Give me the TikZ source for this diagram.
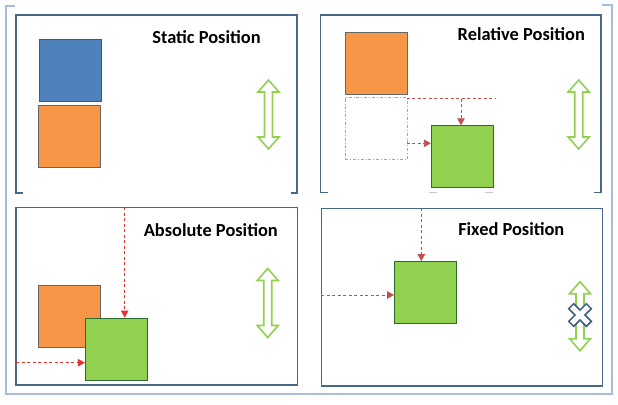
\documentclass[tikz,border=0pt]{standalone}
\usepackage{fontspec}
\setmainfont{Carlito}
\usepackage{tikz}
\usepackage{xcolor}
\usetikzlibrary{arrows.meta}
\definecolor{framegray}{HTML}{A9BED6}
\definecolor{panelblue}{HTML}{46698A}
\definecolor{boxblue}{HTML}{4F81BD}
\definecolor{boxorange}{HTML}{F79646}
\definecolor{boxgreen}{HTML}{92D050}
\definecolor{arrowred}{HTML}{C0504D}
\definecolor{brightred}{HTML}{E8312F}
\definecolor{crossblue}{HTML}{3B5A85}
\tikzset{sqbox/.style={draw, minimum size=62pt, inner sep=0pt, line width=0.8pt},
 bluebox/.style={sqbox, fill=boxblue, draw=boxblue!70!black},
 orangebox/.style={sqbox, fill=boxorange, draw=gray!80!black},
 greenbox/.style={sqbox, fill=boxgreen, draw=gray!60!green!60!black},
 ghostbox/.style={sqbox, draw=gray!70, dash dot, line width=0.7pt},
 panel/.style={draw=panelblue, line width=1.1pt},
 title/.style={anchor=base, font=\fontsize{18.4}{20}\selectfont\bfseries},
 shift arrow/.style={draw=arrowred, line width=0.9pt, dash pattern=on 3pt off 2.5pt,
   -{Triangle[length=7pt,width=7.5pt]}},
 updown/.pic={
   \draw[draw=boxgreen, fill=white, line width=1.6pt, line join=miter]
     (-4,-22.5) -- (-10.5,-22.5) -- (0,-34.5) -- (10.5,-22.5) -- (4,-22.5)
     -- (4,22.5) -- (10.5,22.5) -- (0,34.5) -- (-10.5,22.5) -- (-4,22.5) -- cycle;
 },
 nomove/.pic={
   \draw[draw=crossblue, fill=white, line width=1.5pt, rotate=45]
     (3.5,3.5) -- (12.5,3.5) -- (12.5,-3.5) -- (3.5,-3.5) -- (3.5,-12.5)
     -- (-3.5,-12.5) -- (-3.5,-3.5) -- (-12.5,-3.5) -- (-12.5,3.5)
     -- (-3.5,3.5) -- (-3.5,12.5) -- (3.5,12.5) -- cycle;
 },
 }

\begin{document}
\begin{tikzpicture}[x=1pt, y=-1pt]
        \useasboundingbox (0,0) rectangle (618,404);
        % outer window frame
        \draw[framegray, line width=1.8pt] (15,6) -- (6,6) -- (6,394) -- (611.7,394) -- (611.7,5) -- (602,5);

        % static
        \draw[panel] (23,193) -- (16,193) -- (16,15) -- (297,15) -- (297,193) -- (290.7,193);
        \node[title] (static) at (206.5,43.3) {Static Position};
        \node[bluebox] (blue1) at (70.5,70.5) {};
        \node[orangebox] (orange1) at (69.5,136.3) {};
        \pic at (268.5,114.5) {updown};

        % relative
        \draw[panel] (328,192.7) -- (320.7,192.7) -- (320.7,15) -- (601,15) -- (601,192.7) -- (594,192.7);
        \draw[panel, draw=panelblue!35] (429,192.7) -- (437,192.7) (485,192.7) -- (493,192.7);
        \node[title] (relative) at (521.3,41) {Relative Position};
        \node[orangebox] (orange2) at (376,63.2) {};
        \node[ghostbox] (ghost2) at (376,128.3) {};
        \node[greenbox] (green2) at (462.2,156.7) {};
        \coordinate (rel top) at (406.7,98.5);
        \coordinate (rel end) at (496.3,98.5);
        \coordinate (rel drop) at (461,98.5);
        \coordinate (rel side) at (406.7,143.3);
        \draw[shift arrow, -] (rel top) -- (rel end);
        \draw[shift arrow] (rel drop) -- (rel drop |- green2.north);
        \draw[shift arrow] (rel side) -- (rel side -| green2.west);
        \pic at (578.7,114.5) {updown};

        % absolute
        \draw[panel] (16,207.3) rectangle (297.3,385);
        \node[title] (absolute) at (210.8,236.7) {Absolute Position};
        \node[orangebox] (orange3) at (69.7,316) {};
        \node[greenbox] (green3) at (116.3,349) {};
        \coordinate (abs top) at (124.7,207.3);
        \coordinate (abs left) at (16,362.7);
        \draw[shift arrow, draw=brightred] (abs top) -- (abs top |- green3.north);
        \draw[shift arrow, draw=brightred] (abs left) -- (abs left -| green3.west);
        \pic at (267.7,303) {updown};

        % fixed
        \draw[panel] (321.3,208.3) rectangle (602.7,386);
        \node[title] (fixed) at (511.3,235) {Fixed Position};
        \node[greenbox] (green4) at (425.5,292.5) {};
        \coordinate (fix top) at (421.3,208.3);
        \coordinate (fix left) at (321.3,295);
        \draw[shift arrow] (fix top) -- (fix top |- green4.north);
        \draw[shift arrow] (fix left) -- (fix left -| green4.west);
        \pic at (580,316.2) {updown};
        \pic at (580,315) {nomove};
    \end{tikzpicture}
\end{document}
